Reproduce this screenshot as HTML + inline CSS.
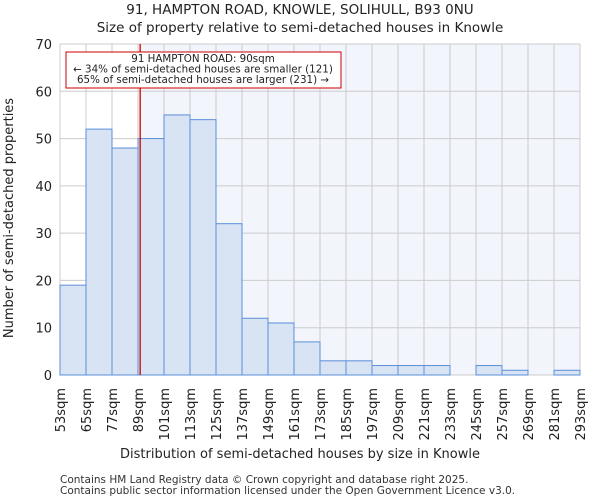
<!DOCTYPE html>
<html><head><meta charset="utf-8"><style>
body{margin:0;background:#fff;font-family:"DejaVu Sans","Liberation Sans",sans-serif;}
</style></head><body>
<svg id="chart" width="600" height="500" xmlns="http://www.w3.org/2000/svg" font-family="DejaVu Sans, Liberation Sans, sans-serif">
<text x="300" y="14" text-anchor="middle" font-size="13.5" fill="#222">91, HAMPTON ROAD, KNOWLE, SOLIHULL, B93 0NU</text>
<text x="300" y="32" text-anchor="middle" font-size="13.5" fill="#222">Size of property relative to semi-detached houses in Knowle</text>
<g id="plot"></g>
<text x="300" y="458" text-anchor="middle" font-size="13" fill="#222">Distribution of semi-detached houses by size in Knowle</text>
<text transform="translate(13,218) rotate(-90)" text-anchor="middle" font-size="13" fill="#222">Number of semi-detached properties</text>
<text x="60" y="483" font-size="10.5" fill="#333">Contains HM Land Registry data © Crown copyright and database right 2025.</text>
<text x="60" y="494" font-size="10.5" fill="#333">Contains public sector information licensed under the Open Government Licence v3.0.</text>
</svg>
<script>
const binStarts=[53,65,77,89,101,113,125,137,149,161,173,185,197,209,221,233,245,257,269,281];
const counts=[19,52,48,50,55,54,32,12,11,7,3,3,2,2,2,0,2,1,0,1];
const tickLabels=["53sqm","65sqm","77sqm","89sqm","101sqm","113sqm","125sqm","137sqm","149sqm","161sqm","173sqm","185sqm","197sqm","209sqm","221sqm","233sqm","245sqm","257sqm","269sqm","281sqm","293sqm"];
const yTicks=[0,10,20,30,40,50,60,70];
const propertySize=90;
const annotation=["91 HAMPTON ROAD: 90sqm","← 34% of semi-detached houses are smaller (121)","65% of semi-detached houses are larger (231) →"];

const NS="http://www.w3.org/2000/svg";
const L=60,R=580,T=44,B=375,xmin=53,xmax=293,ymax=70;
const xs=v=>L+(v-xmin)/(xmax-xmin)*(R-L);
const ys=v=>B-v/ymax*(B-T);
const g=document.getElementById('plot');
function mk(t,a){const e=document.createElementNS(NS,t);for(const k in a)e.setAttribute(k,a[k]);g.appendChild(e);return e;}
const px=xs(propertySize);
let e=mk('rect',{x:px,y:T,width:R-px,height:B-T,fill:'#f3f5fd'});


tickLabels.forEach((t,i)=>{const v=xmin+12*i;const l=mk('line',{x1:xs(v),x2:xs(v),y1:T,y2:B,stroke:'#ccc','stroke-width':1});

});
yTicks.forEach(v=>{const l=mk('line',{x1:L,x2:R,y1:ys(v),y2:ys(v),stroke:'#ccc','stroke-width':1});


const t=mk('text',{x:L-8,y:ys(v)+5,'text-anchor':'end','font-size':'13',fill:'#222'});t.textContent=v;

});
binStarts.forEach((s,i)=>{if(counts[i]<=0)return;const r=mk('rect',{x:xs(s),y:ys(counts[i]),width:xs(s+12)-xs(s),height:B-ys(counts[i]),fill:'#d8e3f4',stroke:'#5b8fd9','stroke-width':1});

});
tickLabels.forEach((t,i)=>{const v=xmin+12*i;const x=xs(v);const tx=mk('text',{transform:`translate(${x+5},388) rotate(-90)`,'text-anchor':'end','font-size':'13',fill:'#222'});tx.textContent=t;

});
e=mk('line',{x1:px,x2:px,y1:T,y2:B,stroke:'#cc0000','stroke-width':1.3});


e=mk('rect',{x:66,y:52,width:275,height:36,fill:'#fff',stroke:'#cc0000','stroke-width':1});


annotation.forEach((a,i)=>{const t=mk('text',{x:203,y:62+i*10.5,'text-anchor':'middle','font-size':'10.3',fill:'#222'});t.textContent=a;

});
</script>
</body></html>
